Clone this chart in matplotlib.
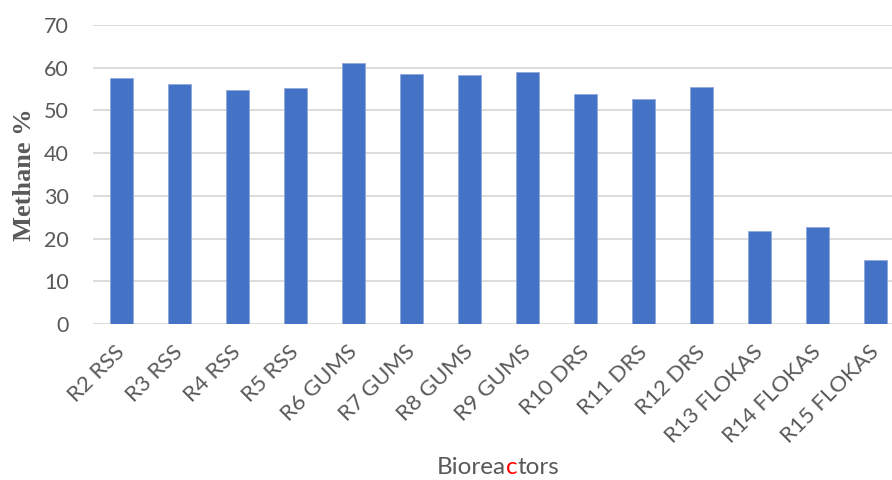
import matplotlib
matplotlib.use("Agg")
import matplotlib.pyplot as plt
import numpy as np

categories = ["R2 RSS", "R3 RSS", "R4 RSS", "R5 RSS", "R6 GUMS", "R7 GUMS",
              "R8 GUMS", "R9 GUMS", "R10 DRS", "R11 DRS", "R12 DRS",
              "R13 FLOKAS", "R14 FLOKAS", "R15 FLOKAS"]
methane = [57.5, 56.1, 54.7, 55.2, 61.0, 58.5, 58.2, 59.0, 53.9, 52.7, 55.6,
           21.7, 22.6, 15.1]
y_ticks = [0, 10, 20, 30, 40, 50, 60, 70]

text_gray = "#595959"
bar_blue = "#4472C4"
grid_gray = "#D9D9D9"
sans = ["Lato", "DejaVu Sans"]

W, H = 892, 480
fig = plt.figure(figsize=(W / 100, H / 100), dpi=100)
# plot area runs slightly past the right edge of the canvas
left, right, top, bottom = 92.7, 904.7, 25, 324
ax = fig.add_axes([left / W, 1 - bottom / H, (right - left) / W, (bottom - top) / H])

x = np.arange(len(categories))
ax.bar(x, methane, width=0.4, color=bar_blue, edgecolor="#8FAADC",
       linewidth=0.6, zorder=3)

ax.set_xlim(-0.5, len(categories) - 0.5)
ax.set_ylim(0, 70)
ax.set_yticks(y_ticks)
ax.yaxis.grid(True, color=grid_gray, linewidth=1.3, zorder=0)
ax.set_axisbelow(True)
for s in ax.spines.values():
    s.set_visible(False)

ax.tick_params(axis="both", length=0, colors=text_gray)
ax.tick_params(axis="y", pad=17, labelsize=15.5)
ax.tick_params(axis="x", pad=18, labelsize=16)
ax.set_xticks(x)
ax.set_xticklabels(categories, rotation=45, ha="right", va="center",
                   rotation_mode="anchor", fontfamily=sans)
for lbl in ax.get_yticklabels():
    lbl.set_fontfamily(sans)

ax.set_ylabel("Methane %", fontfamily=["Liberation Serif", "DejaVu Serif"],
              fontweight="bold", fontsize=19, color=text_gray, labelpad=6)

# x-axis title with a red "c"
pieces = [("Biorea", text_gray), ("c", "#FF0000"), ("tors", text_gray)]
renderer = fig.canvas.get_renderer()
parts = []
for s, c in pieces:
    t = fig.text(0, 0, s, fontsize=17.5, fontfamily=sans, color=c, va="center")
    parts.append((t, t.get_window_extent(renderer).width))
total = sum(w for _, w in parts)
xpos = 498 - total / 2
for t, w in parts:
    t.set_position((xpos / W, 1 - 467 / H))
    xpos += w

fig.savefig("out.png", dpi=100)
